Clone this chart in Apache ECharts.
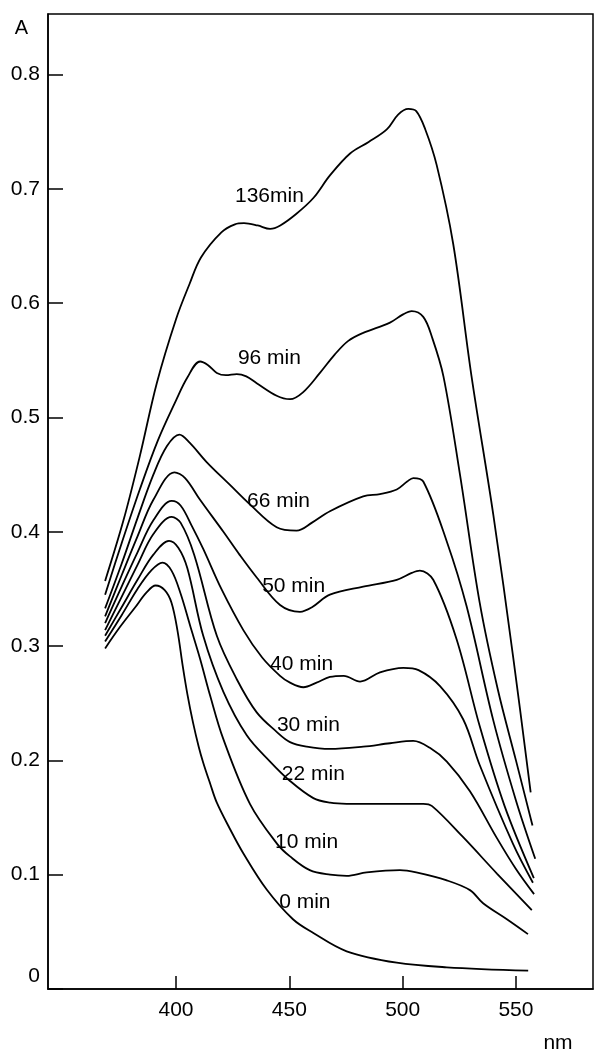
<!DOCTYPE html>
<html>
<head>
<meta charset="utf-8">
<script src="https://cdn.jsdelivr.net/npm/echarts@6/dist/echarts.min.js"></script>
<style>
html,body{margin:0;padding:0;background:#fff;}
#chart{width:596px;height:1054px;}
</style>
</head>
<body>
<div id="chart"></div>
<script>
// Tick values
const xTicks = [400, 450, 500, 550];
const yTicks = [0, 0.1, 0.2, 0.3, 0.4, 0.5, 0.6, 0.7, 0.8];

// Curve labels (minutes)
const curveNames = ['136min', '96 min', '66 min', '50 min', '40 min', '30 min', '22 min', '10 min', '0 min'];
// Label anchor points [nm, A] (left-middle of text)
const labelPos = [[426, 0.694], [427.3, 0.552], [431.3, 0.427], [438, 0.352], [441.5, 0.284], [444.5, 0.231], [446.7, 0.188], [443.7, 0.128], [445.5, 0.076]];

// Spectra: [wavelength nm, absorbance]
const c136 = [[368.7,0.357],[376.8,0.410],[384,0.466],[391.5,0.530],[400,0.586],[406,0.617],[411,0.640],[420,0.662],[426,0.669],[430,0.670],[436,0.668],[441.5,0.665],[446,0.668],[453,0.678],[460.6,0.692],[468,0.712],[476.8,0.731],[485,0.741],[493,0.752],[498,0.765],[502.5,0.770],[506,0.768],[510,0.752],[515,0.721],[522.3,0.652],[530.4,0.536],[540,0.415],[548.8,0.290],[556.5,0.172]];
const c96 = [[368.7,0.345],[376,0.390],[384,0.437],[392,0.480],[400,0.515],[405,0.535],[410.6,0.549],[414,0.546],[418,0.539],[422,0.537],[426.8,0.538],[431,0.536],[435.6,0.530],[444.4,0.519],[450.3,0.516],[456,0.522],[463.5,0.539],[470,0.555],[476,0.567],[482.6,0.574],[494.4,0.583],[500,0.590],[504,0.593],[509.1,0.588],[513,0.570],[518,0.536],[525.3,0.450],[534,0.338],[542,0.262],[550,0.200],[557.3,0.143]];
const c66 = [[368.7,0.333],[376,0.372],[383,0.412],[390,0.450],[396,0.475],[401.5,0.485],[406,0.478],[413.5,0.461],[423.8,0.441],[432.6,0.424],[444.4,0.404],[453.2,0.401],[460,0.408],[467.9,0.418],[482.6,0.431],[490,0.433],[497.4,0.437],[502,0.444],[504.7,0.447],[509.1,0.444],[519.4,0.392],[528.2,0.335],[540,0.235],[550,0.165],[558.5,0.114]];
const c50 = [[368.7,0.326],[376,0.362],[383,0.396],[390,0.428],[399.3,0.452],[404,0.447],[410.6,0.428],[420.9,0.400],[428,0.380],[435.6,0.360],[445.9,0.336],[454.7,0.330],[460,0.334],[467.9,0.345],[482.6,0.352],[497.4,0.358],[504,0.364],[507.6,0.366],[513.5,0.358],[523.8,0.306],[534,0.230],[545,0.160],[557.9,0.097]];
const c40 = [[368.7,0.320],[376,0.352],[383,0.382],[390,0.410],[398.1,0.427],[402,0.423],[407,0.405],[412,0.385],[420,0.350],[429.7,0.314],[438,0.290],[445.9,0.274],[450.3,0.268],[456.2,0.264],[462,0.268],[467.9,0.273],[474,0.274],[481.2,0.269],[490,0.277],[500.3,0.281],[507,0.279],[516.5,0.265],[526.7,0.236],[534,0.196],[548.7,0.127],[557.5,0.093]];
const c30 = [[368.7,0.314],[376,0.343],[383,0.371],[390,0.398],[398.1,0.413],[402,0.408],[408,0.380],[418,0.309],[426.8,0.271],[435.6,0.242],[444.4,0.225],[450.3,0.216],[457.7,0.212],[467.9,0.210],[482.6,0.212],[494.4,0.215],[504.7,0.217],[512,0.211],[519.5,0.199],[529.7,0.173],[541.6,0.132],[550,0.105],[558,0.083]];
const c22 = [[368.7,0.309],[376,0.334],[383,0.358],[390,0.380],[396.9,0.392],[401,0.386],[405,0.368],[412,0.309],[420.9,0.260],[431.2,0.222],[441.5,0.199],[450.3,0.182],[460.6,0.167],[468,0.163],[475.3,0.162],[490,0.162],[509.1,0.162],[513,0.160],[526.6,0.133],[541.6,0.101],[557,0.069]];
const c10 = [[368.7,0.304],[376,0.327],[383,0.350],[389,0.366],[394,0.373],[398,0.366],[402,0.346],[406.2,0.318],[410.6,0.289],[415,0.257],[420.8,0.219],[432.6,0.162],[444.6,0.127],[450.3,0.116],[459,0.104],[468,0.100],[475.3,0.099],[484.1,0.102],[498.8,0.104],[506,0.102],[519.5,0.095],[529.7,0.0865],[535.5,0.075],[546,0.061],[555.3,0.048]];
const c0 = [[368.7,0.298],[375,0.316],[382,0.334],[387,0.347],[391,0.353],[395,0.349],[398,0.338],[400.6,0.314],[403,0.282],[405,0.258],[407.5,0.233],[410,0.212],[412,0.198],[415,0.180],[418,0.163],[423.8,0.140],[429.6,0.119],[440,0.087],[451.6,0.061],[460.6,0.049],[475.3,0.033],[497.4,0.023],[519.4,0.019],[555.4,0.016]];

const curves = [c136, c96, c66, c50, c40, c30, c22, c10, c0];

const FONT = 'Liberation Sans, Arial, sans-serif';
const chart = echarts.init(document.getElementById('chart'), null, {renderer: 'canvas'});

const series = curves.map((d, i) => ({
  type: 'line',
  name: curveNames[i],
  data: d,
  smooth: 0.35,
  showSymbol: false,
  symbol: 'none',
  lineStyle: {color: '#000', width: 1.8},
  animation: false
}));

series.push({
  type: 'scatter',
  data: labelPos.map((p, i) => ({value: p, name: curveNames[i]})),
  symbolSize: 0,
  itemStyle: {opacity: 1},
  animation: false,
  label: {
    show: true,
    position: 'right',
    distance: 0,
    formatter: p => p.name,
    color: '#000',
    opacity: 1,
    fontFamily: FONT,
    fontSize: 21
  },
  z: 5
});

chart.setOption({
  backgroundColor: '#fff',
  animation: false,
  grid: {left: 48, right: 3, top: 14, bottom: 54, show: true, borderColor: '#000', borderWidth: 1.5, backgroundColor: 'transparent'},
  xAxis: {
    type: 'value',
    min: 343.5,
    max: 584,
    name: 'nm',
    nameLocation: 'end',
    nameGap: -35,
    nameTextStyle: {fontFamily: FONT, fontSize: 21, color: '#000', align: 'center', verticalAlign: 'top', padding: [44, 0, 0, 0]},
    axisLine: {show: true, lineStyle: {color: '#000', width: 1.5}},
    axisTick: {show: true, inside: true, length: 13, customValues: xTicks, lineStyle: {color: '#000', width: 1.5}},
    axisLabel: {show: true, customValues: xTicks, margin: 11, color: '#000', fontFamily: FONT, fontSize: 21},
    splitLine: {show: false}
  },
  yAxis: {
    type: 'value',
    min: 0,
    max: 0.853,
    name: 'A',
    nameLocation: 'end',
    nameGap: -24,
    nameTextStyle: {fontFamily: FONT, fontSize: 20, color: '#000', align: 'right', verticalAlign: 'bottom', padding: [0, 20, 0, 0]},
    axisLine: {show: true, lineStyle: {color: '#000', width: 1.5}},
    axisTick: {show: true, inside: true, length: 15, customValues: yTicks, lineStyle: {color: '#000', width: 1.5}},
    axisLabel: {show: true, customValues: yTicks, margin: 8, color: '#000', fontFamily: FONT, fontSize: 21,
      formatter: v => (v === 0 ? '{z|0}' : v.toFixed(1)),
      rich: {z: {fontFamily: FONT, fontSize: 21, color: '#000', padding: [0, 0, 26, 0]}}},
    splitLine: {show: false}
  },
  series: series
});
</script>
</body>
</html>
